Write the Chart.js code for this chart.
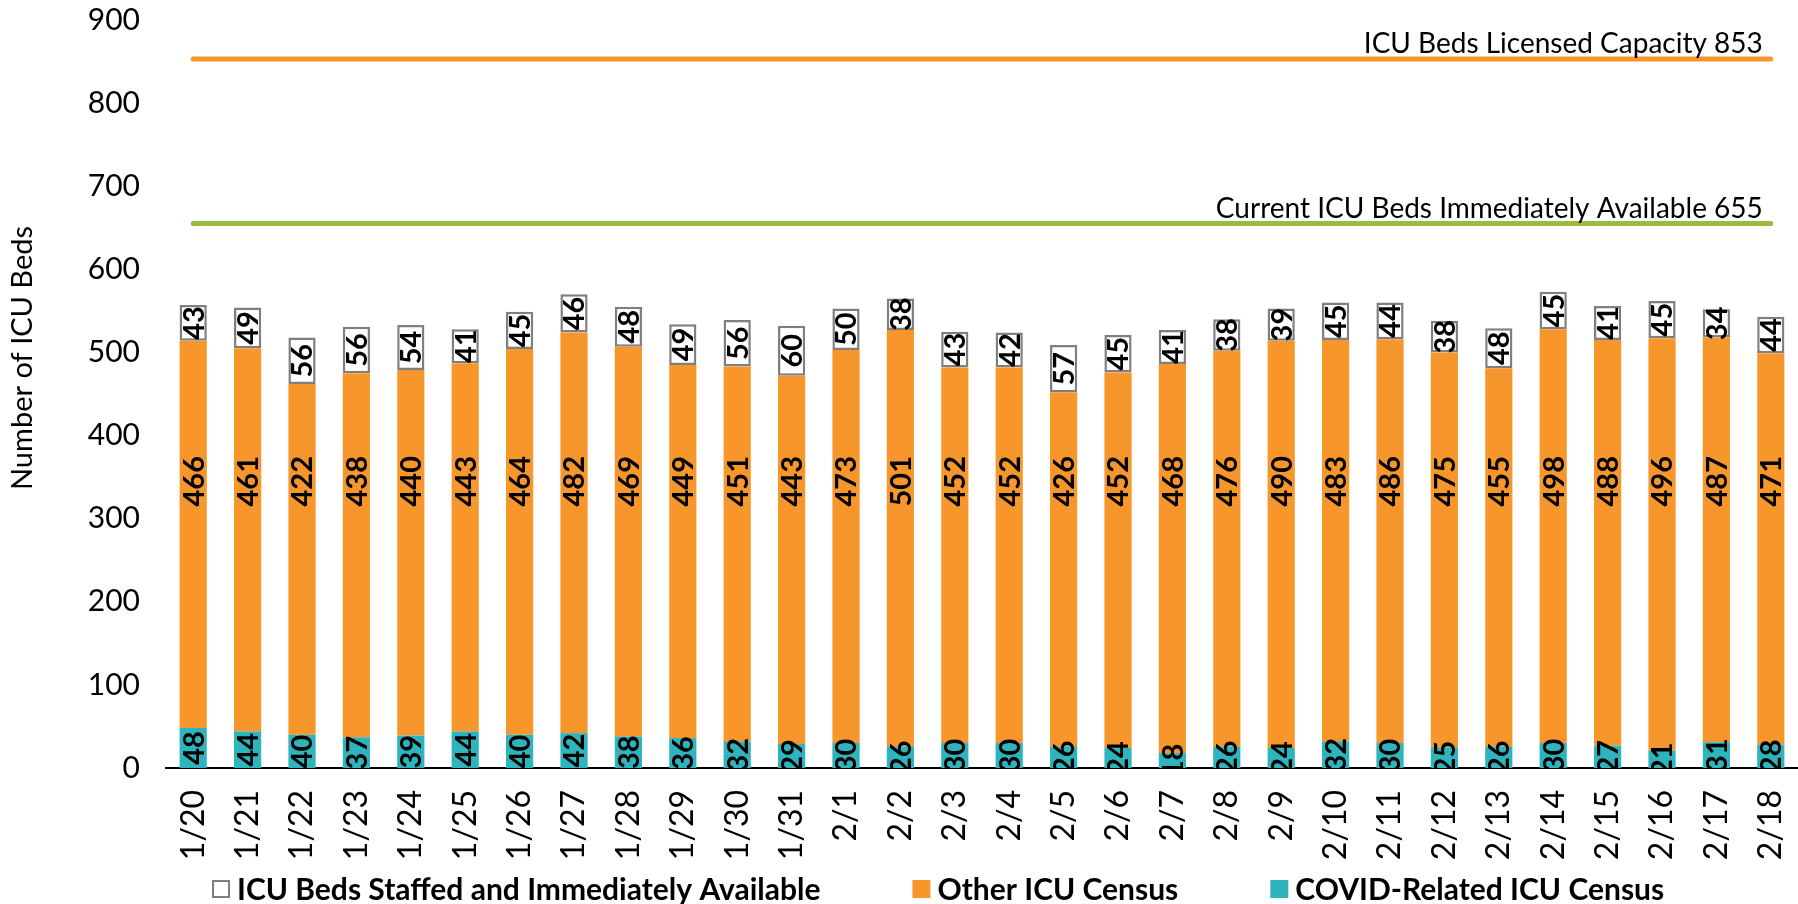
<!DOCTYPE html>
<html lang="en">
<head>
<meta charset="UTF-8">
<title>ICU Beds</title>
<style>
    body {
        margin: 0;
        background: #fff;
    }
    .wrap {
        width: 1798px;
        height: 904px;
    }
</style>
</head>
<body>
<div class="wrap">
    <canvas id="icuChart" width="1798" height="904"></canvas>
</div>

<script src="https://cdn.jsdelivr.net/npm/chart.js"></script>
<script>
    const dates = ['1/20', '1/21', '1/22', '1/23', '1/24', '1/25', '1/26', '1/27', '1/28', '1/29', '1/30', '1/31',
        '2/1', '2/2', '2/3', '2/4', '2/5', '2/6', '2/7', '2/8', '2/9', '2/10', '2/11', '2/12', '2/13', '2/14',
        '2/15', '2/16', '2/17', '2/18'];
    const covidCensus = [48, 44, 40, 37, 39, 44, 40, 42, 38, 36, 32, 29, 30, 26, 30, 30, 26, 24, 18, 26, 24, 32,
        30, 25, 26, 30, 27, 21, 31, 28];
    const otherCensus = [466, 461, 422, 438, 440, 443, 464, 482, 469, 449, 451, 443, 473, 501, 452, 452, 426, 452,
        468, 476, 490, 483, 486, 475, 455, 498, 488, 496, 487, 471];
    const bedsAvailable = [43, 49, 56, 56, 54, 41, 45, 46, 48, 49, 56, 60, 50, 38, 43, 42, 57, 45, 41, 38, 39, 45,
        44, 38, 48, 45, 41, 45, 34, 44];
    const licensedCapacity = 853;
    const currentAvailable = 655;

    const ORANGE = '#F7962B';
    const TEAL = '#2EB4BC';
    const GREEN = '#9BBB3C';
    const GRAY = '#7F7F7F';

    Chart.defaults.font.family = 'Lato, "Open Sans", sans-serif';
    Chart.defaults.color = '#000';

    // numbers written sideways on each bar segment
    const barLabels = {
        id: 'barLabels',
        afterDatasetsDraw(chart) {
            const ctx = chart.ctx;
            const area = chart.chartArea;
            const yScale = chart.scales.y;
            ctx.save();
            ctx.beginPath();
            ctx.rect(area.left, area.top, area.right - area.left, area.bottom - area.top + 1);
            ctx.clip();
            ctx.font = 'bold 29px Lato';
            ctx.fillStyle = '#000';
            ctx.textAlign = 'center';
            ctx.textBaseline = 'middle';
            chart.data.datasets.forEach((ds, i) => {
                if (ds.type === 'line') return;
                chart.getDatasetMeta(i).data.forEach((bar, j) => {
                    let cy = (bar.y + bar.base) / 2;
                    if (ds.labelAt !== undefined) cy = yScale.getPixelForValue(ds.labelAt);
                    ctx.save();
                    ctx.translate(bar.x, cy);
                    ctx.rotate(-Math.PI / 2);
                    ctx.fillText(ds.data[j], 0, 1);
                    ctx.restore();
                });
            });
            ctx.restore();
        }
    };

    // caption at the right end of each reference line
    const lineLabels = {
        id: 'lineLabels',
        afterDatasetsDraw(chart) {
            const ctx = chart.ctx;
            ctx.save();
            ctx.font = '28px Lato';
            ctx.fillStyle = '#000';
            ctx.textAlign = 'right';
            ctx.textBaseline = 'bottom';
            chart.data.datasets.forEach((ds, i) => {
                if (ds.type !== 'line') return;
                const pts = chart.getDatasetMeta(i).data;
                const last = pts[pts.length - 1];
                ctx.fillText(ds.label + ' ' + ds.data[ds.data.length - 1].y, last.x - 8, last.y - 1);
            });
            ctx.restore();
        }
    };

    // y axis title, sitting a little above the middle like the original
    const yTitle = {
        id: 'yTitle',
        afterDraw(chart) {
            const ctx = chart.ctx;
            const area = chart.chartArea;
            ctx.save();
            ctx.font = '29px Lato';
            ctx.fillStyle = '#000';
            ctx.textAlign = 'center';
            ctx.textBaseline = 'middle';
            ctx.translate(23, (area.top + area.bottom) / 2 - 36);
            ctx.rotate(-Math.PI / 2);
            ctx.fillText('Number of ICU Beds', 0, 0);
            ctx.restore();
        }
    };

    // legend row under the axis labels
    const bottomLegend = {
        id: 'bottomLegend',
        afterDraw(chart) {
            const ctx = chart.ctx;
            const items = [
                { text: 'ICU Beds Staffed and Immediately Available', fill: '#fff', stroke: GRAY },
                { text: 'Other ICU Census', fill: ORANGE },
                { text: 'COVID-Related ICU Census', fill: TEAL }
            ];
            const cy = chart.height - 15;
            let x = 212;
            ctx.save();
            ctx.font = 'bold 30px Lato';
            ctx.textBaseline = 'middle';
            ctx.textAlign = 'left';
            items.forEach(it => {
                ctx.fillStyle = it.fill;
                ctx.fillRect(x, cy - 9, 18, 18);
                if (it.stroke) {
                    ctx.strokeStyle = it.stroke;
                    ctx.lineWidth = 2;
                    ctx.strokeRect(x + 1, cy - 8, 16, 16);
                }
                ctx.fillStyle = '#000';
                ctx.fillText(it.text, x + 25, cy + 1);
                x += 25 + ctx.measureText(it.text).width + 92;
            });
            ctx.restore();
        }
    };

    new Chart(document.getElementById('icuChart'), {
        type: 'bar',
        data: {
            labels: dates,
            datasets: [
                {
                    label: 'COVID-Related ICU Census',
                    data: covidCensus,
                    backgroundColor: TEAL,
                    stack: 'beds',
                    order: 2
                },
                {
                    label: 'Other ICU Census',
                    data: otherCensus,
                    backgroundColor: ORANGE,
                    stack: 'beds',
                    labelAt: 345,
                    order: 2
                },
                {
                    label: 'ICU Beds Staffed and Immediately Available',
                    data: bedsAvailable,
                    backgroundColor: '#fff',
                    borderColor: GRAY,
                    borderWidth: 2.5,
                    borderSkipped: false,
                    stack: 'beds',
                    order: 2
                },
                {
                    type: 'line',
                    label: 'ICU Beds Licensed Capacity',
                    data: [{ x: dates[0], y: licensedCapacity }, { x: dates[dates.length - 1], y: licensedCapacity }],
                    borderColor: ORANGE,
                    borderWidth: 5,
                    borderCapStyle: 'round',
                    pointRadius: 0,
                    stack: 'capacity',
                    order: 1
                },
                {
                    type: 'line',
                    label: 'Current ICU Beds Immediately Available',
                    data: [{ x: dates[0], y: currentAvailable }, { x: dates[dates.length - 1], y: currentAvailable }],
                    borderColor: GREEN,
                    borderWidth: 5,
                    borderCapStyle: 'round',
                    pointRadius: 0,
                    stack: 'current',
                    order: 1
                }
            ]
        },
        options: {
            responsive: false,
            animation: false,
            layout: {
                padding: { top: 20, right: 0, bottom: 34, left: 4 }
            },
            datasets: {
                bar: { categoryPercentage: 1.0, barPercentage: 0.5 }
            },
            plugins: {
                legend: { display: false },
                tooltip: { enabled: false }
            },
            scales: {
                x: {
                    stacked: true,
                    grid: { display: false, drawTicks: false },
                    border: { display: true, color: '#000', width: 2 },
                    ticks: {
                        autoSkip: false,
                        minRotation: 90,
                        maxRotation: 90,
                        padding: 22,
                        font: { size: 32 }
                    },
                    afterFit(scale) {
                        scale.height = 102;
                        scale.paddingLeft = 0;
                        scale.paddingRight = 0;
                    }
                },
                y: {
                    stacked: true,
                    min: 0,
                    max: 900,
                    grid: { display: false, drawTicks: false },
                    border: { display: false },
                    ticks: {
                        stepSize: 100,
                        padding: 26,
                        font: { size: 30 }
                    },
                    afterFit(scale) {
                        scale.width = 162;
                        scale.paddingTop = 0;
                        scale.paddingBottom = 0;
                    }
                }
            }
        },
        plugins: [barLabels, lineLabels, yTitle, bottomLegend]
    });
</script>
</body>
</html>
